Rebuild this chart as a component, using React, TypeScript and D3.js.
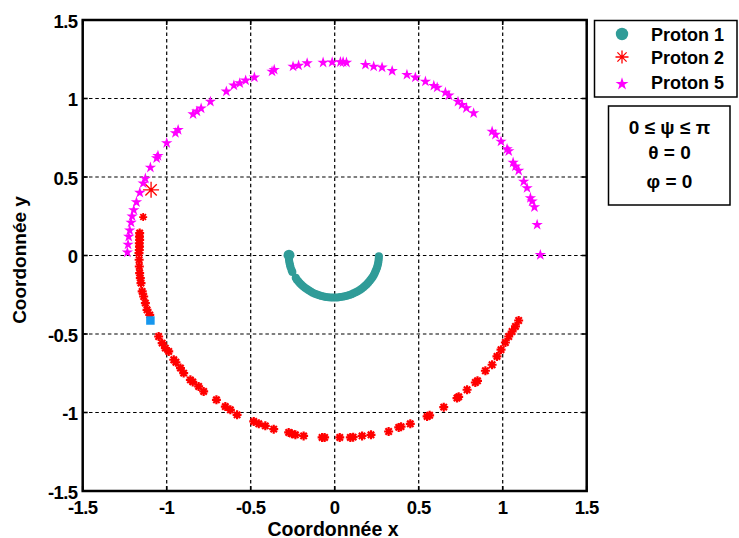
import React from "react";
import * as d3 from "d3";

const W = 739;
const H = 538;

const xTicks = [-1.5, -1, -0.5, 0, 0.5, 1, 1.5];
const yTicks = [-1.5, -1, -0.5, 0, 0.5, 1, 1.5];
const xTickLabels = ["-1.5", "-1", "-0.5", "0", "0.5", "1", "1.5"];
const yTickLabels = ["-1.5", "-1", "-0.5", "0", "0.5", "1", "1.5"];

const seriesNames = ["Proton 1", "Proton 2", "Proton 5"];
const seriesColors = ["#309C98", "#FF0000", "#FF00FF"];
const annotationLines = ["0 \u2264 \u03C8 \u2264 \u03C0", "\u03B8 = 0", "\u03C6 = 0"];

// Proton 1 (teal circles)
const p1Start: [number, number] = [-0.272, 0.002];
const p1X = [-0.273, -0.273, -0.273, -0.272, -0.271, -0.269, -0.266, -0.263, -0.257, -0.252,
  -0.232, -0.225, -0.216, -0.207, -0.198, -0.188, -0.177, -0.166, -0.155, -0.143, -0.131, -0.118,
  -0.105, -0.092, -0.079, -0.065, -0.052, -0.038, -0.024, -0.010, 0.004, 0.018, 0.032, 0.046,
  0.060, 0.073, 0.087, 0.100, 0.112, 0.125, 0.137, 0.149, 0.160, 0.171, 0.181, 0.191, 0.200,
  0.209, 0.217, 0.225, 0.232, 0.238, 0.243, 0.248, 0.253, 0.256, 0.259, 0.261, 0.262, 0.263];
const p1Y = [0.000, -0.005, -0.014, -0.023, -0.033, -0.047, -0.060, -0.074, -0.092, -0.105,
  -0.142, -0.154, -0.165, -0.176, -0.186, -0.196, -0.205, -0.214, -0.222, -0.230, -0.237, -0.243,
  -0.248, -0.253, -0.258, -0.261, -0.264, -0.266, -0.267, -0.268, -0.268, -0.267, -0.265, -0.263,
  -0.260, -0.256, -0.252, -0.247, -0.241, -0.234, -0.227, -0.220, -0.211, -0.202, -0.193, -0.183,
  -0.172, -0.161, -0.150, -0.138, -0.126, -0.113, -0.100, -0.087, -0.074, -0.060, -0.047, -0.033,
  -0.019, -0.005];

// Proton 2 (red asterisks)
const p2Start: [number, number] = [-1.093, 0.418];
const p2Second: [number, number] = [-1.14, 0.245];
const p2X = [-1.161, -1.162, -1.161, -1.163, -1.162, -1.163, -1.165, -1.164, -1.163, -1.161,
  -1.157, -1.153, -1.146, -1.137, -1.127, -1.117, -1.101,
  -1.048, -1.027, -1.008, -0.988, -0.958, -0.945, -0.918, -0.899, -0.859, -0.845, -0.81, -0.78,
  -0.704, -0.651, -0.621, -0.581, -0.482, -0.452, -0.413, -0.363, -0.274, -0.255, -0.234, -0.185,
  -0.075, -0.06, 0.03, 0.093, 0.11, 0.163, 0.216, 0.321, 0.381, 0.395, 0.45, 0.55, 0.565, 0.649,
  0.728, 0.738, 0.788, 0.837, 0.85, 0.897, 0.937, 0.966, 0.99, 1.016, 1.036, 1.056, 1.076, 1.095];
const p2Y = [0.143, 0.12, 0.1, 0.078, 0.057, 0.035, 0.015, -0.027, -0.07, -0.112,
  -0.144, -0.176, -0.229, -0.261, -0.303, -0.346, -0.378,
  -0.516, -0.558, -0.59, -0.611, -0.664, -0.68, -0.717, -0.749, -0.792, -0.805, -0.834, -0.866,
  -0.919, -0.962, -0.983, -1.015, -1.057, -1.072, -1.085, -1.106, -1.127, -1.135, -1.142, -1.149,
  -1.159, -1.159, -1.159, -1.159, -1.157, -1.149, -1.142, -1.121, -1.095, -1.09, -1.072, -1.025,
  -1.018, -0.966, -0.908, -0.9, -0.855, -0.809, -0.798, -0.734, -0.696, -0.643, -0.6, -0.554,
  -0.516, -0.484, -0.452, -0.414];

// Proton 2 end marker (blue square)
const p2End: [number, number] = [-1.097, -0.414];

// Proton 5 (magenta stars)
const p5X = [-1.234, -1.23, -1.226, -1.22, -1.212, -1.206, -1.196, -1.18, -1.16, -1.14, -1.127,
  -1.097, -1.06, -1.052, -1.0, -0.948, -0.932, -0.843, -0.82, -0.795, -0.74, -0.645, -0.6, -0.565,
  -0.53, -0.478, -0.373, -0.36, -0.248, -0.215, -0.164, -0.069, -0.015, 0.034, 0.05, 0.07, 0.183,
  0.232, 0.282, 0.342, 0.43, 0.48, 0.54, 0.59, 0.61, 0.659, 0.68, 0.734, 0.758, 0.784, 0.827,
  0.937, 0.957, 0.99, 1.026, 1.036, 1.062, 1.076, 1.095, 1.125, 1.145, 1.165, 1.175, 1.189, 1.205,
  1.224];
const p5Y = [0.02, 0.07, 0.12, 0.16, 0.21, 0.25, 0.29, 0.34, 0.4, 0.46, 0.49, 0.56, 0.62, 0.635,
  0.716, 0.78, 0.8, 0.9, 0.918, 0.937, 0.98, 1.045, 1.083, 1.098, 1.115, 1.134, 1.172, 1.183, 1.204,
  1.21, 1.225, 1.229, 1.231, 1.232, 1.232, 1.229, 1.215, 1.204, 1.198, 1.176, 1.151, 1.134, 1.108,
  1.081, 1.07, 1.038, 1.02, 0.98, 0.96, 0.939, 0.907, 0.79, 0.77, 0.726, 0.678, 0.665, 0.592, 0.568,
  0.541, 0.471, 0.43, 0.366, 0.345, 0.308, 0.196, 0.004];

const FONT = "'Liberation Sans', Arial, sans-serif";

const asterisk = {
  draw(ctx: any, size: number) {
    const r = Math.sqrt(size) / 2;
    const d = r * Math.SQRT1_2;
    ctx.moveTo(-r, 0); ctx.lineTo(r, 0);
    ctx.moveTo(0, -r); ctx.lineTo(0, r);
    ctx.moveTo(-d, -d); ctx.lineTo(d, d);
    ctx.moveTo(-d, d); ctx.lineTo(d, -d);
  },
};

export default function App() {
  const left = 82.7, right = 586.7, top = 20, bottom = 491;
  const x = d3.scaleLinear().domain([-1.5, 1.5]).range([left, right]);
  const y = d3.scaleLinear().domain([-1.5, 1.5]).range([bottom, top]);

  const circle = (r: number) => d3.symbol().type(d3.symbolCircle).size(Math.PI * r * r)() as string;
  const star = (s: number) => d3.symbol().type(d3.symbolStar).size(s)() as string;
  const ast = (len: number) => d3.symbol().type(asterisk as any).size(len * len)() as string;
  const square = (s: number) => d3.symbol().type(d3.symbolSquare).size(s * s)() as string;

  const tealPath = circle(4);
  const starPath = star(40);
  const astPath = ast(9);

  return (
    <svg width={W} height={H} style={{ position: "absolute", left: 0, top: 0, background: "#fff" }}>
      <rect x={0} y={0} width={W} height={H} fill="#fff" />
      {/* grid */}
      <g stroke="#000" strokeWidth={1.2} strokeDasharray="3.5,2.8">
        {xTicks.slice(1, -1).map((t) => (
          <line key={"gx" + t} x1={x(t)} x2={x(t)} y1={top} y2={bottom} />
        ))}
        {yTicks.slice(1, -1).map((t) => (
          <line key={"gy" + t} x1={left} x2={right} y1={y(t)} y2={y(t)} />
        ))}
      </g>
      {/* ticks */}
      <g stroke="#000" strokeWidth={1.6}>
        {xTicks.map((t) => (
          <g key={"tx" + t}>
            <line x1={x(t)} x2={x(t)} y1={bottom} y2={bottom - 5} />
            <line x1={x(t)} x2={x(t)} y1={top} y2={top + 5} />
          </g>
        ))}
        {yTicks.map((t) => (
          <g key={"ty" + t}>
            <line x1={left} x2={left + 5} y1={y(t)} y2={y(t)} />
            <line x1={right} x2={right - 5} y1={y(t)} y2={y(t)} />
          </g>
        ))}
      </g>
      {/* frame */}
      <rect x={left} y={top} width={right - left} height={bottom - top} fill="none" stroke="#000" strokeWidth={2.5} />

      {/* tick labels */}
      <g fontFamily={FONT} fontWeight="bold" fontSize={18.5} fill="#000">
        {xTicks.map((t, i) => (
          <text key={"lx" + t} x={x(t)} y={513.5} textAnchor="middle" letterSpacing={-0.6}>
            {xTickLabels[i]}
          </text>
        ))}
        {yTicks.map((t, i) => (
          <text key={"ly" + t} x={77.5} y={y(t) + 7.5} textAnchor="end" letterSpacing={-0.6}>
            {yTickLabels[i]}
          </text>
        ))}
      </g>
      <text x={333} y={535.5} textAnchor="middle" fontFamily={FONT} fontWeight="bold" fontSize={19.5} fill="#000">
        Coordonnée x
      </text>
      <text
        transform={`translate(26,${260}) rotate(-90)`}
        textAnchor="middle"
        fontFamily={FONT}
        fontWeight="bold"
        fontSize={19}
        fill="#000"
      >
        Coordonnée y
      </text>

      {/* Proton 1 */}
      <g fill={seriesColors[0]}>
        {p1X.map((v, i) => (
          <path key={"p1" + i} d={tealPath} transform={`translate(${x(v)},${y(p1Y[i])})`} />
        ))}
        <path d={circle(5.5)} transform={`translate(${x(p1Start[0])},${y(p1Start[1])})`} />
      </g>

      {/* Proton 2 */}
      <g stroke={seriesColors[1]} fill="none">
        {p2X.map((v, i) => (
          <path key={"p2" + i} d={astPath} strokeWidth={2.2} transform={`translate(${x(v)},${y(p2Y[i])})`} />
        ))}
        <path d={ast(16)} strokeWidth={1.3} transform={`translate(${x(p2Start[0])},${y(p2Start[1])})`} />
        <path d={ast(8)} strokeWidth={1.8} transform={`translate(${x(p2Second[0])},${y(p2Second[1])})`} />
      </g>
      <path d={square(8.5)} fill="#1697EE" transform={`translate(${x(p2End[0])},${y(p2End[1])})`} />

      {/* Proton 5 */}
      <g fill={seriesColors[2]}>
        {p5X.map((v, i) => (
          <path key={"p5" + i} d={starPath} transform={`translate(${x(v)},${y(p5Y[i])})`} />
        ))}
      </g>

      {/* legend */}
      <rect x={594.5} y={20.5} width={142.5} height={76.5} fill="#fff" stroke="#000" strokeWidth={1.5} />
      <path d={circle(6.2)} fill={seriesColors[0]} transform="translate(622,34)" />
      <path d={ast(13)} stroke={seriesColors[1]} strokeWidth={1.3} fill="none" transform="translate(622,57)" />
      <path d={star(52)} fill={seriesColors[2]} transform="translate(622,84)" />
      <g fontFamily={FONT} fontWeight="bold" fontSize={18} fill="#000">
        {seriesNames.map((n, i) => (
          <text key={n} x={651} y={[41, 63.5, 89][i]}>
            {n}
          </text>
        ))}
      </g>

      {/* annotation box */}
      <rect x={608.5} y={106} width={121.5} height={99} fill="#fff" stroke="#000" strokeWidth={1.5} />
      <g fontFamily={FONT} fontWeight="bold" fontSize={19} fill="#000" textAnchor="middle">
        {annotationLines.map((l, i) => (
          <text key={i} x={669.5} y={[134, 159, 188][i]}>
            {l}
          </text>
        ))}
      </g>
    </svg>
  );
}
